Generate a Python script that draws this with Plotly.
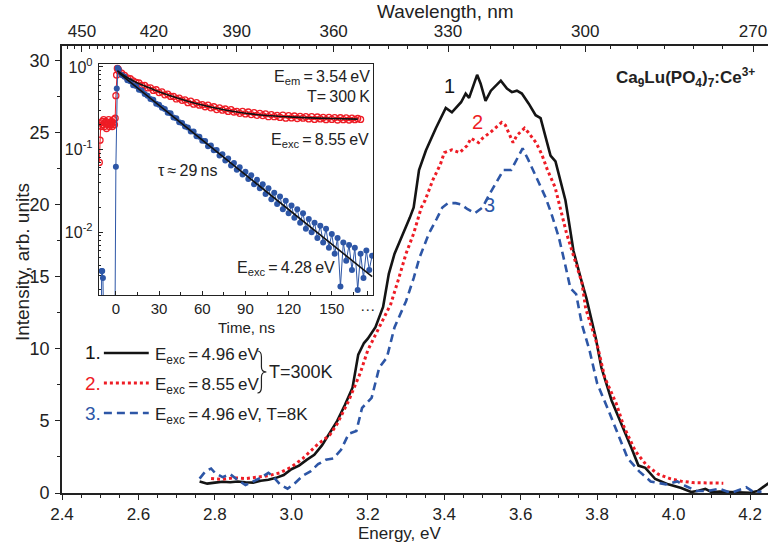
import plotly.graph_objects as go

# ---------------- main emission spectra (Energy, eV ; Intensity) ----------------
e1 = [2.76, 2.78, 2.80, 2.82, 2.84, 2.86, 2.88, 2.90, 2.92, 2.94, 2.96, 2.98, 3.00, 3.02, 3.04,
      3.06, 3.08, 3.10, 3.12, 3.14, 3.16, 3.175, 3.19, 3.20, 3.22, 3.24, 3.255, 3.27, 3.29, 3.31,
      3.32, 3.334, 3.352, 3.378, 3.404, 3.42, 3.444, 3.456, 3.465, 3.477, 3.486, 3.495, 3.508,
      3.522, 3.53, 3.548, 3.564, 3.577, 3.59, 3.603, 3.621, 3.639, 3.652, 3.665, 3.678, 3.691,
      3.704, 3.717, 3.725, 3.738, 3.757, 3.772, 3.796, 3.811, 3.838, 3.864, 3.89, 3.908, 3.926,
      3.952, 3.986, 4.02, 4.046, 4.065, 4.083, 4.10, 4.12, 4.15, 4.18, 4.20, 4.22, 4.24, 4.26]
i1 = [0.80, 0.65, 0.72, 0.78, 0.75, 0.80, 0.75, 0.72, 0.85, 0.92, 1.05, 1.25, 1.65, 1.90, 2.30,
      2.65, 3.30, 4.20, 5.00, 6.10, 7.30, 9.60, 10.4, 10.7, 11.5, 12.9, 15.2, 16.6, 17.8, 19.1,
      19.8, 22.4, 23.75, 25.3, 26.7, 26.4, 27.1, 27.7, 27.4, 28.4, 29.0, 28.4, 27.2,
      27.9, 28.1, 28.6, 28.05, 27.8, 27.9, 27.7, 27.0, 26.2, 26.0, 24.65, 23.4, 23.0,
      21.6, 20.3, 19.0, 16.8, 14.9, 13.5, 10.8, 8.7, 6.4, 4.8, 3.1, 1.9, 1.75,
      0.97, 0.6, 0.35, 0.07, 0.15, 0.28, 0.05, 0.1, 0.07, 0.05, 0.02, 0.14, 0.5, 0.9]

e2 = [2.79, 2.82, 2.85, 2.88, 2.91, 2.94, 2.97, 3.00, 3.03, 3.05, 3.07, 3.10, 3.12, 3.15, 3.18,
      3.20, 3.22, 3.24, 3.26, 3.28, 3.30, 3.32, 3.34, 3.35, 3.37, 3.39, 3.40, 3.42, 3.44, 3.46,
      3.47, 3.49, 3.50, 3.52, 3.55, 3.56, 3.58, 3.59, 3.61, 3.62, 3.64, 3.655, 3.67, 3.69, 3.70,
      3.72, 3.74, 3.76, 3.77, 3.80, 3.82, 3.85, 3.87, 3.90, 3.93, 3.96, 3.99, 4.02, 4.05, 4.08,
      4.11, 4.13]
i2 = [1.00, 0.95, 1.05, 1.00, 1.10, 1.20, 1.40, 1.80, 2.40, 2.90, 3.40, 4.00, 4.80, 6.40, 8.30,
      9.90, 11.0, 12.0, 13.1, 14.8, 16.6, 18.0, 19.8, 20.3, 21.7, 22.8, 23.6, 23.8, 23.6, 24.1,
      24.6, 24.3, 24.6, 25.0, 25.7, 25.5, 24.3, 24.8, 25.3, 25.0, 24.3, 23.5, 22.4, 21.2, 20.1,
      18.0, 16.3, 14.6, 12.8, 10.3, 8.0, 6.2, 4.6, 2.9, 1.9, 1.3, 1.0, 0.82, 0.72, 0.70,
      0.70, 0.68]

e3 = [2.76, 2.775, 2.79, 2.80, 2.82, 2.84, 2.86, 2.88, 2.90, 2.92, 2.94, 2.95, 2.97, 2.99, 3.01,
      3.03, 3.05, 3.07, 3.09, 3.11, 3.13, 3.15, 3.17, 3.185, 3.21, 3.23, 3.25, 3.27, 3.30, 3.32,
      3.335, 3.36, 3.38, 3.395, 3.41, 3.43, 3.445, 3.46, 3.48, 3.50, 3.52, 3.54, 3.555, 3.575,
      3.59, 3.605, 3.62, 3.635, 3.65, 3.665, 3.68, 3.70, 3.715, 3.73, 3.745, 3.76, 3.78, 3.80,
      3.83, 3.855, 3.88, 3.91, 3.94, 3.98, 4.01, 4.03, 4.06, 4.09, 4.12, 4.15, 4.19, 4.21, 4.23]
i3 = [1.00, 1.50, 1.70, 1.40, 1.10, 1.30, 0.90, 0.55, 0.80, 1.05, 1.40, 1.20, 0.60, 0.30, 0.70,
      1.20, 1.50, 2.00, 2.30, 2.40, 3.00, 4.10, 4.30, 5.90, 6.60, 8.70, 9.40, 11.5, 13.3, 14.9,
      16.3, 18.0, 19.0, 19.8, 20.1, 20.1, 20.0, 19.7, 19.4, 19.8, 20.8, 21.7, 22.4, 22.4,
      23.1, 23.9, 23.1, 22.2, 21.4, 20.5, 19.4, 17.7, 16.0, 14.2, 13.8, 11.7, 9.9, 7.6,
      5.7, 4.1, 2.4, 1.5, 0.8, 0.6, 0.8, 0.5, 0.14, 0.14, 0.3, 0.0, 0.4, 0.05, 0.1]

wl_ticks = [450, 420, 390, 360, 330, 300, 270]
energy_ticks = [2.4, 2.6, 2.8, 3.0, 3.2, 3.4, 3.6, 3.8, 4.0, 4.2]
intensity_ticks = [0, 5, 10, 15, 20, 25, 30]

# ---------------- inset decay curves (Time, ns ; normalised intensity) ----------------
red_t = [-11.5, -11, -10.5, -10, -9.5, -9, -8.5, -8, -7.5, -7, -6.5, -6, -5.5, -5, -4.5, -4,
         -3.5, -3, -2.5, -2, -1.5, -1, -0.5, 0, 0.5, 1, 1.5,
         2, 4, 6, 8, 10, 12, 14, 16, 18, 20, 22, 24, 26, 28, 30, 32, 34, 36, 38, 40,
         42, 44, 46, 48, 50, 52, 54, 56, 58, 60, 62, 64, 66, 68, 70, 72, 74, 76, 78, 80,
         82, 84, 86, 88, 90, 92, 94, 96, 98, 100, 102, 104, 106, 108, 110, 112, 114, 116, 118, 120,
         122, 124, 126, 128, 130, 132, 134, 136, 138, 140, 142, 144, 146, 148, 150, 152, 154, 156,
         158, 160, 162, 164, 166, 168, 170]
red_v = [0.07, 0.13, 0.21, 0.19, 0.22, 0.20, 0.23, 0.19, 0.21, 0.22, 0.18, 0.21, 0.20, 0.23, 0.19, 0.21,
         0.20, 0.22, 0.19, 0.21, 0.23, 0.20, 0.24, 0.45, 0.80, 0.96, 0.95,
         0.90, 0.84, 0.79, 0.74, 0.72, 0.68, 0.65, 0.64, 0.60, 0.60,
         0.56, 0.56, 0.52, 0.53, 0.49, 0.50, 0.46, 0.47, 0.44, 0.44,
         0.41, 0.42, 0.395, 0.40, 0.37, 0.385, 0.355, 0.37, 0.345, 0.35,
         0.33, 0.345, 0.32, 0.33, 0.305, 0.32, 0.30, 0.31, 0.29, 0.305,
         0.285, 0.29, 0.275, 0.29, 0.27, 0.285, 0.265, 0.28, 0.26, 0.275,
         0.258, 0.27, 0.25, 0.265, 0.25, 0.26, 0.245, 0.262, 0.24, 0.258,
         0.242, 0.255, 0.238, 0.252, 0.24, 0.25, 0.235, 0.25, 0.232, 0.248,
         0.235, 0.245, 0.23, 0.246, 0.232, 0.244, 0.228, 0.243, 0.23, 0.242,
         0.228, 0.24, 0.23, 0.238, 0.232]

blue_t = [-11.5, -10, -9.9, -9.5, -9.0, -8.6, -7.6, -6, -3, -0.6, 0, 0.6, 1.2,
          2, 4, 6, 8, 10, 12, 14, 16, 18, 20, 22, 24, 26, 28, 30, 32, 34, 36, 38, 40,
          42, 44, 46, 48, 50, 52, 54, 56, 58, 60, 62, 64, 66, 68, 70, 72, 74, 76, 78, 80,
          82, 84, 86, 88, 90, 92, 94, 96, 98, 100, 102, 104, 106, 108, 110, 112, 114, 116, 118, 120,
          122, 124, 126, 128, 130, 132, 134, 136, 138, 140, 142, 144, 146, 148, 150, 152, 154, 156,
          158, 160, 162, 164, 166, 168, 170, 172, 174, 176, 178]
blue_v = [0.001, 0.001, 0.0034, 0.0034, 0.0028, 0.001, 0.001, 0.001, 0.001, 0.001, 0.062, 0.55, 0.97,
          0.93, 0.80, 0.76, 0.69, 0.67, 0.60, 0.59, 0.53, 0.52, 0.47,
          0.45, 0.41, 0.40, 0.36, 0.35, 0.32, 0.31, 0.28, 0.275, 0.245,
          0.24, 0.215, 0.21, 0.19, 0.185, 0.165, 0.165, 0.145, 0.143, 0.128,
          0.127, 0.110, 0.112, 0.098, 0.099, 0.085, 0.088, 0.074, 0.078, 0.064,
          0.069, 0.057, 0.061, 0.050, 0.054, 0.044, 0.049, 0.038, 0.043, 0.034,
          0.038, 0.029, 0.034, 0.025, 0.030, 0.022, 0.027, 0.019, 0.024, 0.017,
          0.021, 0.015, 0.019, 0.013, 0.017, 0.011, 0.0145, 0.010, 0.013, 0.0085,
          0.012, 0.0075, 0.011, 0.0065, 0.0095, 0.0055, 0.0085, 0.0022, 0.0075, 0.0045,
          0.007, 0.0035, 0.0065, 0.002, 0.0055, 0.0028, 0.006, 0.0035, 0.0052]

red_fit_t = [1, 5, 10, 15, 20, 30, 40, 50, 60, 75, 90, 105, 120, 135, 150, 168]
red_fit_v = [0.90, 0.80, 0.71, 0.64, 0.59, 0.50, 0.435, 0.385, 0.346, 0.303, 0.276, 0.259,
             0.249, 0.242, 0.238, 0.234]
blue_fit_t = [2, 60, 120, 178]
blue_fit_v = [0.85, 0.131, 0.0189, 0.0029]

inset_xticks = [0, 30, 60, 90, 120, 150, 175]
inset_xticktext = ["0", "30", "60", "90", "120", "150", "···"]
inset_yticks = [1, 0.1, 0.01]
inset_yticktext = ["10<sup>0</sup>", "10<sup>-1</sup>", "10<sup>-2</sup>"]

# ---------------- layout geometry ----------------
W, H = 770, 544
ML, MR, MT, MB = 62, 0, 46, 51
PW, PH = W - ML - MR, H - MT - MB


def px(x):
    return (x - ML) / PW


def py(y):
    return (H - MB - y) / PH


FONT = "Arial, Liberation Sans, Helvetica, sans-serif"
INK = "#222222"
BLACK = "#141414"
RED = "#ee1c25"
BLUE = "#2d56a6"
TS = "\u2009"  # thin space

# energy axis calibration (2.4 eV at px 62, 4.2 eV at px 752)
e_per_px = (4.2 - 2.4) / (752 - 62)
x_range = [2.4, 2.4 + PW * e_per_px]

# wavelength axis: linear in 1/lambda; 450 nm at px 82, 270 nm at px 755
k450, k270 = 1 / 450, 1 / 270
kscale = (755 - 82) / (k270 - k450)
k_range = [k450 - (82 - ML) / kscale, k450 + (W - 82) / kscale]
wl_minor = []
lam = 460.0
while lam > 390.5:
    wl_minor.append(1 / lam)
    lam -= 10 / 3
lam = 385.0
while lam >= 267:
    wl_minor.append(1 / lam)
    lam -= 5

fig = go.Figure()

# main spectra
fig.add_trace(go.Scatter(x=e1, y=i1, mode="lines", line=dict(color=BLACK, width=2.6),
                         showlegend=False, hoverinfo="skip"))
fig.add_trace(go.Scatter(x=e2, y=i2, mode="lines", line=dict(color=RED, width=3, dash="dot"),
                         showlegend=False, hoverinfo="skip"))
fig.add_trace(go.Scatter(x=e3, y=i3, mode="lines", line=dict(color=BLUE, width=2.6, dash="8px,5px"),
                         showlegend=False, hoverinfo="skip"))
# dummy trace to activate top axis
fig.add_trace(go.Scatter(x=[sum(k_range) / 2], y=[None], xaxis="x2", yaxis="y", mode="lines",
                         showlegend=False, hoverinfo="skip"))

# inset
fig.add_trace(go.Scatter(x=red_t, y=red_v, xaxis="x3", yaxis="y3", mode="lines+markers",
                         line=dict(color=RED, width=1),
                         marker=dict(symbol="circle-open", size=6, color=RED, line=dict(width=1.3)),
                         showlegend=False, hoverinfo="skip"))
fig.add_trace(go.Scatter(x=blue_t, y=blue_v, xaxis="x3", yaxis="y3", mode="lines+markers",
                         line=dict(color=BLUE, width=1),
                         marker=dict(symbol="circle", size=6, color=BLUE),
                         showlegend=False, hoverinfo="skip"))
fig.add_trace(go.Scatter(x=red_fit_t, y=red_fit_v, xaxis="x3", yaxis="y3", mode="lines",
                         line=dict(color="#111111", width=1.6, shape="spline"),
                         showlegend=False, hoverinfo="skip"))
fig.add_trace(go.Scatter(x=blue_fit_t, y=blue_fit_v, xaxis="x3", yaxis="y3", mode="lines",
                         line=dict(color="#111111", width=1.6),
                         showlegend=False, hoverinfo="skip"))

inset_xdom = [px(99), px(374)]
inset_ydom = [py(295), py(64)]

yminor = []
for dec in [0.001, 0.01, 0.1]:
    for m in range(2, 10):
        yminor.append(m * dec)

fig.update_layout(
    width=W, height=H,
    margin=dict(l=ML, r=MR, t=MT, b=MB, pad=0),
    paper_bgcolor="white", plot_bgcolor="white",
    font=dict(family=FONT, color=INK, size=18),
    showlegend=False,
    xaxis=dict(range=x_range, tickmode="array", tickvals=energy_ticks,
               ticktext=[f"{v:.1f}" for v in energy_ticks],
               ticks="outside", ticklen=5, tickwidth=1.3, tickcolor=INK,
               showline=True, linecolor=INK, linewidth=1.6, showgrid=False, zeroline=False,
               tickfont=dict(size=17), ticklabelstandoff=0,
               minor=dict(tickvals=[2.45, 2.5, 2.55, 2.65, 2.7, 2.75, 2.85, 2.9, 2.95, 3.05, 3.1, 3.15,
                                    3.25, 3.3, 3.35, 3.45, 3.5, 3.55, 3.65, 3.7, 3.75, 3.85, 3.9, 3.95,
                                    4.05, 4.1, 4.15, 4.25],
                          ticks="outside", ticklen=3, tickwidth=1.1, tickcolor=INK)),
    xaxis2=dict(overlaying="x", side="top", anchor="y", range=k_range, tickmode="array",
                tickvals=[1 / w for w in wl_ticks], ticktext=[str(w) for w in wl_ticks],
                ticks="inside", ticklen=6, tickwidth=1.3, tickcolor=INK,
                showline=True, linecolor=INK, linewidth=1.6, showgrid=False, zeroline=False,
                tickfont=dict(size=17), ticklabelstandoff=0,
                minor=dict(tickvals=wl_minor, ticks="inside", ticklen=3, tickwidth=1.1, tickcolor=INK)),
    yaxis=dict(range=[0, 31], tickmode="array", tickvals=intensity_ticks,
               ticks="outside", ticklen=5, tickwidth=1.3, tickcolor=INK,
               showline=True, linecolor=INK, linewidth=1.6, showgrid=False, zeroline=False,
               tickfont=dict(size=18), ticklabelstandoff=2,
               minor=dict(tickvals=[2.5, 7.5, 12.5, 17.5, 22.5, 27.5], ticks="outside", ticklen=3,
                          tickwidth=1.1, tickcolor=INK)),
    xaxis3=dict(domain=inset_xdom, anchor="y3", range=[-11.8, 178.7], tickmode="array",
                tickvals=inset_xticks, ticktext=inset_xticktext,
                ticks="inside", ticklen=4, tickwidth=1, tickcolor=INK,
                showline=True, mirror=True, linecolor=INK, linewidth=1.2,
                showgrid=False, zeroline=False, tickfont=dict(size=15), ticklabelstandoff=0,
                minor=dict(tickvals=[15, 45, 75, 105, 135, 165], ticks="inside", ticklen=2.5,
                           tickwidth=1, tickcolor=INK)),
    yaxis3=dict(domain=inset_ydom, anchor="x3", type="log", range=[-2.76, 0.036],
                tickmode="array", tickvals=inset_yticks, ticktext=inset_yticktext,
                ticks="inside", ticklen=4, tickwidth=1, tickcolor=INK,
                showline=True, mirror=True, linecolor=INK, linewidth=1.2,
                showgrid=False, zeroline=False, tickfont=dict(size=16), ticklabelstandoff=2,
                minor=dict(tickvals=yminor, ticks="inside", ticklen=2.5, tickwidth=1, tickcolor=INK)),
)

ann = []


def text(x, y, s, size=18, color=INK, xanchor="center", yanchor="middle", angle=0, ref="paper"):
    ann.append(dict(x=x, y=y, xref=ref, yref=ref, text=s, showarrow=False,
                    font=dict(size=size, color=color, family=FONT),
                    xanchor=xanchor, yanchor=yanchor, textangle=angle, borderpad=0))


# axis titles
text(px(401), py(544), "Energy, eV", size=17, yanchor="bottom")
text(px(447), py(0), "Wavelength, nm", size=19, yanchor="top")
text(px(22), py(262), "Intensity, arb. units", size=19, angle=-90)
text(px(247), py(327), "Time, ns", size=15)

# compound label
text(px(758), py(77), "<b>Ca<sub>9</sub>Lu(PO<sub>4</sub>)<sub>7</sub>:Ce<sup>3+</sup></b>",
     size=17, xanchor="right")

# curve numbers (data coordinates)
for lbl, ex, iy, col in [("1", 3.415, 28.2, BLACK), ("2", 3.488, 25.7, RED), ("3", 3.519, 20.0, BLUE)]:
    ann.append(dict(x=ex, y=iy, xref="x", yref="y", text=lbl, showarrow=False,
                    font=dict(size=20, color=col, family=FONT)))

# legend
legend_rows = [("1.", BLACK, "solid", "E<sub>exc</sub>" + TS + "=" + TS + "4.96" + TS + "eV", 353),
               ("2.", RED, "dot", "E<sub>exc</sub>" + TS + "=" + TS + "8.55" + TS + "eV", 383),
               ("3.", BLUE, "8px,5px", "E<sub>exc</sub>" + TS + "=" + TS + "4.96" + TS + "eV, T=8K", 413)]
shapes = []
for num, col, dash, lab, yy in legend_rows:
    text(px(102), py(yy), num, size=19, color=col, xanchor="right")
    shapes.append(dict(type="line", xref="paper", yref="paper", x0=px(104), x1=px(149),
                       y0=py(yy), y1=py(yy),
                       line=dict(color=col, width=2.6 if dash != "dot" else 3, dash=dash)))
    text(px(154), py(yy + 3), lab, size=17, xanchor="left")

# brace
bx = [(258, 351), (262, 351), (262, 357), (262, 367), (262, 372), (267, 372), (262, 372), (262, 377),
      (262, 387), (262, 393), (258, 393)]
p = [(px(a), py(b)) for a, b in bx]
path = ("M {0[0]},{0[1]} Q {1[0]},{1[1]} {2[0]},{2[1]} L {3[0]},{3[1]} Q {4[0]},{4[1]} {5[0]},{5[1]} "
        "Q {6[0]},{6[1]} {7[0]},{7[1]} L {8[0]},{8[1]} Q {9[0]},{9[1]} {10[0]},{10[1]}").format(*p)
shapes.append(dict(type="path", xref="paper", yref="paper", path=path,
                   line=dict(color=INK, width=1.2)))
text(px(269), py(372), "T=300K", size=18, xanchor="left")

# inset annotations
text(px(372), py(78), "E<sub>em</sub>" + TS + "=" + TS + "3.54" + TS + "eV", size=16, xanchor="right")
text(px(372), py(96), "T=" + TS + "300" + TS + "K", size=16, xanchor="right")
text(px(371), py(140), "E<sub>exc</sub>" + TS + "=" + TS + "8.55" + TS + "eV", size=16, xanchor="right")
text(px(157), py(170), "τ" + TS + "≈" + TS + "29" + TS + "ns", size=16, xanchor="left")
text(px(337), py(268), "E<sub>exc</sub>" + TS + "=" + TS + "4.28" + TS + "eV", size=16, xanchor="right")

fig.update_layout(annotations=ann, shapes=shapes)

fig.write_html("out.html")
